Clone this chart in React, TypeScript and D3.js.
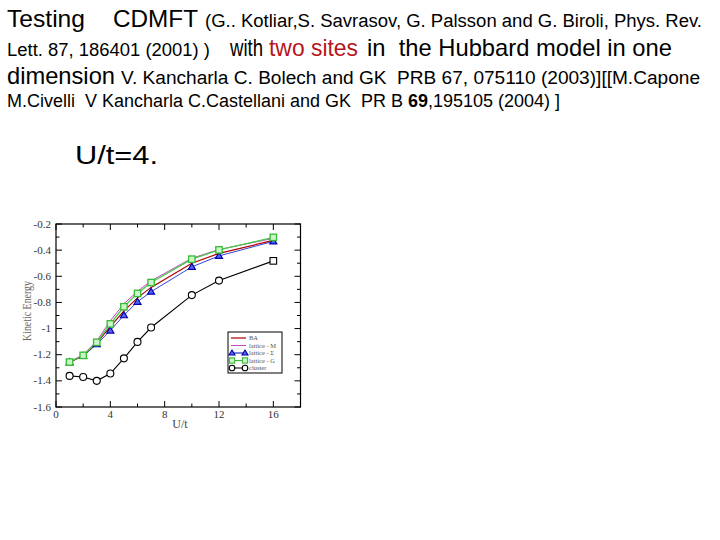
import React from "react";
import * as d3 from "d3";

const xs = [1, 2, 3, 4, 5, 6, 7, 10, 12, 16];
const cluster = [-1.362, -1.37, -1.4, -1.344, -1.228, -1.102, -0.992, -0.744, -0.633, -0.482];
const latticeG = [-1.256, -1.205, -1.105, -0.964, -0.833, -0.731, -0.648, -0.469, -0.398, -0.302];
const latticeS = [-1.258, -1.21, -1.12, -1.015, -0.898, -0.795, -0.718, -0.528, -0.444, -0.333];
const latticeBA = [-1.257, -1.207, -1.11, -0.985, -0.865, -0.765, -0.685, -0.5, -0.425, -0.325];
const latticeM = [-1.255, -1.2, -1.095, -0.94, -0.81, -0.715, -0.635, -0.462, -0.395, -0.31];

const xMajor = [0, 4, 8, 12, 16];
const xMinor = [2, 6, 10, 14, 18];
const yMajor = [-1.6, -1.4, -1.2, -1.0, -0.8, -0.6, -0.4, -0.2];
const yMinor = [-1.5, -1.3, -1.1, -0.9, -0.7, -0.5, -0.3];
const legendLabels = ["BA", "lattice - M", "lattice - \u03A3", "lattice - G", "cluster"];

const X0 = 56, X1 = 300.5, Y0 = 224, Y1 = 407;

export default function App() {
  const x = d3.scaleLinear().domain([0, 18]).range([X0, X1]);
  const y = d3.scaleLinear().domain([-1.6, -0.2]).range([Y1, Y0]);
  const line = d3.line<[number, number]>().x(d => x(d[0])).y(d => y(d[1]));
  const pts = (v: number[]) => xs.map((xx, i) => [xx, v[i]] as [number, number]);
  const sans = "'Liberation Sans', Arial, sans-serif";
  const serif = "'Liberation Serif', 'Times New Roman', serif";
  const tickCol = "#333";
  const legendY = [338, 345.5, 353, 360.5, 368];
  const pre = { whiteSpace: "pre" as const };

  return (
    <svg width={720} height={540} style={{ position: "absolute", left: 0, top: 0, background: "#fff" }}>
      <rect x={0} y={0} width={720} height={540} fill="#fff" />
      {/* Title text */}
      <g fontFamily={sans} fill="#000" style={pre}>
        <text x={7} y={27} fontSize={24} textLength={78} lengthAdjust="spacingAndGlyphs">Testing</text>
        <text x={113} y={27} fontSize={24} textLength={85} lengthAdjust="spacingAndGlyphs">CDMFT</text>
        <text x={205} y={27} fontSize={18} textLength={497} lengthAdjust="spacingAndGlyphs">(G.. Kotliar,S. Savrasov, G. Palsson and G. Biroli, Phys. Rev.</text>
        <text x={7} y={56} fontSize={18} textLength={203} lengthAdjust="spacingAndGlyphs">Lett. 87, 186401 (2001) )</text>
        <text x={230} y={56} fontSize={24} textLength={33} lengthAdjust="spacingAndGlyphs">with</text>
        <text x={269} y={56} fontSize={24} textLength={89} lengthAdjust="spacingAndGlyphs" fill="#b5161b">two sites</text>
        <text x={367} y={56} fontSize={24} textLength={305} lengthAdjust="spacingAndGlyphs" xmlSpace="preserve">{"in  the Hubbard model in one"}</text>
        <text x={7} y={84} fontSize={24} textLength={108} lengthAdjust="spacingAndGlyphs">dimension</text>
        <text x={121} y={84} fontSize={18} textLength={579} lengthAdjust="spacingAndGlyphs" xmlSpace="preserve">{"V. Kancharla C. Bolech and GK  PRB 67, 075110 (2003)][[M.Capone"}</text>
        <text x={7} y={107} fontSize={18} textLength={553} lengthAdjust="spacingAndGlyphs" xmlSpace="preserve">
          {"M.Civelli  V Kancharla C.Castellani and GK  PR B "}<tspan fontWeight="bold">69</tspan>{",195105 (2004) ]"}
        </text>
        <text x={75} y={164} fontSize={26} textLength={83} lengthAdjust="spacingAndGlyphs">U/t=4.</text>
      </g>

      {/* Plot frame */}
      <rect x={X0} y={Y0} width={X1 - X0} height={Y1 - Y0} fill="none" stroke="#000" strokeWidth={1.2} />
      {/* X ticks */}
      {xMajor.map(t => (
        <g key={"xm" + t}>
          <line x1={x(t)} x2={x(t)} y1={Y1} y2={Y1 - 6} stroke="#000" />
          <line x1={x(t)} x2={x(t)} y1={Y0} y2={Y0 + 6} stroke="#000" />
          <text x={x(t)} y={418} fontSize={11} fontFamily={serif} textAnchor="middle" fill={tickCol}>{String(t)}</text>
        </g>
      ))}
      {xMinor.map(t => (
        <g key={"xn" + t}>
          <line x1={x(t)} x2={x(t)} y1={Y1} y2={Y1 - 3.5} stroke="#000" />
          <line x1={x(t)} x2={x(t)} y1={Y0} y2={Y0 + 3.5} stroke="#000" />
        </g>
      ))}
      {/* Y ticks */}
      {yMajor.map(t => (
        <g key={"ym" + t}>
          <line x1={X0} x2={X0 + 6} y1={y(t)} y2={y(t)} stroke="#000" />
          <line x1={X1} x2={X1 - 6} y1={y(t)} y2={y(t)} stroke="#000" />
          <text x={51} y={y(t) + 3.5} fontSize={11} fontFamily={serif} textAnchor="end" fill={tickCol}>
            {String(Math.round(t * 10) / 10)}
          </text>
        </g>
      ))}
      {yMinor.map(t => (
        <g key={"yn" + t}>
          <line x1={X0} x2={X0 + 3.5} y1={y(t)} y2={y(t)} stroke="#000" />
          <line x1={X1} x2={X1 - 3.5} y1={y(t)} y2={y(t)} stroke="#000" />
        </g>
      ))}
      <text x={180} y={428} fontSize={12} fontFamily={serif} textAnchor="middle" fill="#444">U/t</text>
      <text transform="translate(31,311) rotate(-90)" fontSize={11.5} fontFamily={serif} textAnchor="middle" fill="#666" textLength={60} lengthAdjust="spacingAndGlyphs">Kinetic Energy</text>

      {/* Series */}
      <path d={line(pts(cluster)) || ""} fill="none" stroke="#000" strokeWidth={1.1} />
      <path d={line(pts(latticeS)) || ""} fill="none" stroke="#3344dd" strokeWidth={1} />
      <path d={line(pts(latticeBA)) || ""} fill="none" stroke="#b00000" strokeWidth={1.2} />
      <path d={line(pts(latticeM)) || ""} fill="none" stroke="#cc44cc" strokeWidth={1} />
      <path d={line(pts(latticeG)) || ""} fill="none" stroke="#44cc44" strokeWidth={1.3} />

      {pts(latticeS).map((p, i) => {
        const cx = x(p[0]), cy = y(p[1]);
        return <path key={"s" + i} d={`M${cx},${cy - 3.5}L${cx + 3.5},${cy + 2.5}L${cx - 3.5},${cy + 2.5}Z`} fill="#5566ee" stroke="#0000aa" strokeWidth={1.2} />;
      })}
      {pts(latticeG).map((p, i) => (
        <rect key={"g" + i} x={x(p[0]) - 3.2} y={y(p[1]) - 3.2} width={6.4} height={6.4} fill="#ccf5cc" stroke="#33bb33" strokeWidth={1.3} />
      ))}
      {pts(cluster).map((p, i) =>
        i === xs.length - 1 ? (
          <rect key={"c" + i} x={x(p[0]) - 3.3} y={y(p[1]) - 3.3} width={6.6} height={6.6} fill="#fff" stroke="#000" strokeWidth={1.1} />
        ) : (
          <circle key={"c" + i} cx={x(p[0])} cy={y(p[1])} r={3.5} fill="#fff" stroke="#000" strokeWidth={1.1} />
        )
      )}

      {/* Legend */}
      <rect x={228} y={332} width={54} height={41} fill="#fff" stroke="#000" strokeWidth={1} />
      <line x1={231} x2={246} y1={legendY[0]} y2={legendY[0]} stroke="#b00000" strokeWidth={1.2} />
      <line x1={231} x2={246} y1={legendY[1]} y2={legendY[1]} stroke="#cc44cc" strokeWidth={1} />
      <line x1={231} x2={246} y1={legendY[2]} y2={legendY[2]} stroke="#0000aa" strokeWidth={1} />
      {[232, 245].map(cx => (
        <path key={"lt" + cx} d={`M${cx},${legendY[2] - 3}L${cx + 3},${legendY[2] + 2}L${cx - 3},${legendY[2] + 2}Z`} fill="#5566ee" stroke="#0000aa" strokeWidth={1.1} />
      ))}
      <line x1={231} x2={246} y1={legendY[3]} y2={legendY[3]} stroke="#33bb33" strokeWidth={1} />
      {[232, 245].map(cx => (
        <rect key={"lg" + cx} x={cx - 2.6} y={legendY[3] - 2.6} width={5.2} height={5.2} fill="#ccf5cc" stroke="#33bb33" strokeWidth={1.1} />
      ))}
      <line x1={231} x2={246} y1={legendY[4]} y2={legendY[4]} stroke="#000" strokeWidth={1} />
      {[232, 245].map(cx => (
        <circle key={"lc" + cx} cx={cx} cy={legendY[4]} r={2.8} fill="#fff" stroke="#000" strokeWidth={1.1} />
      ))}
      {legendLabels.map((l, i) => (
        <text key={l} x={249} y={legendY[i] + 2.3} fontSize={6.5} fontFamily={serif} fill="#555">{l}</text>
      ))}
    </svg>
  );
}
